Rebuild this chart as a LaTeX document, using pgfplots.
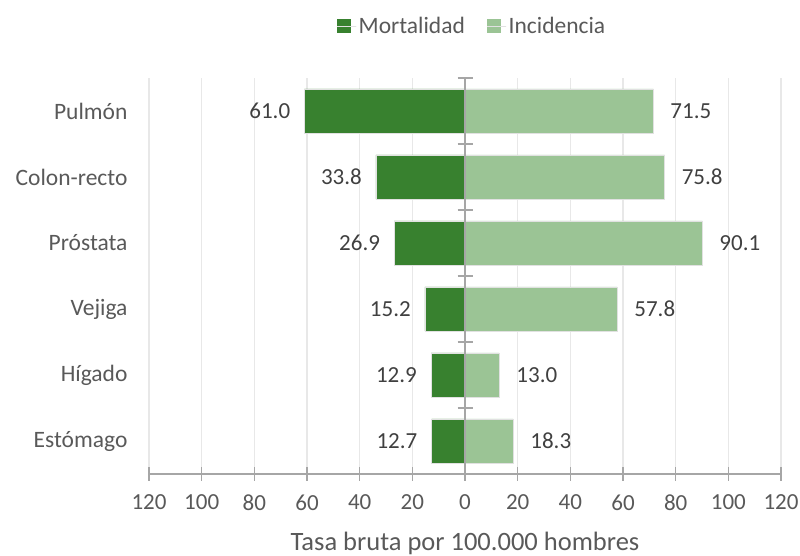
\documentclass[border=0pt]{standalone}
\usepackage{pgfplots}
\usepackage{pgfplotstable}
\pgfplotsset{compat=1.18}
\usepackage{fontspec}
\setmainfont{Carlito}
\definecolor{mort}{RGB}{56,129,47}
\definecolor{inc}{RGB}{155,196,149}
\definecolor{gridc}{RGB}{232,232,232}
\definecolor{axc}{RGB}{166,166,166}
\definecolor{txt}{RGB}{89,89,89}
\definecolor{lbl}{RGB}{64,64,64}
\definecolor{barline}{RGB}{225,225,225}
\pgfplotstableread{
y  m     i
5  61.0  71.5
4  33.8  75.8
3  26.9  90.1
2  15.2  57.8
1  12.9  13.0
0  12.7  18.3
}\datatab
\begin{document}
\begin{tikzpicture}
\useasboundingbox (-149pt,-82pt) rectangle (651pt,474pt);
\begin{axis}[
  scale only axis, width=632pt, height=396pt,
  xmin=-120, xmax=120, ymin=-0.5, ymax=5.5,
  clip=false,
  xtick={-120,-100,...,120},
  xticklabels={120,100,80,60,40,20,0,20,40,60,80,100,120},
  ytick={0,...,5},
  yticklabels={Estómago,Hígado,Vejiga,Próstata,Colon-recto,Pulmón},
  axis x line*=bottom,
  separate axis lines,
  x axis line style={draw=axc, line width=1.5pt, -},
  y axis line style={draw=none},
  xtick style={draw=axc, line width=1.5pt},
  ytick style={draw=none},
  major tick length=14pt,
  tick align=center,
  xmajorgrids,
  grid style={gridc, line width=1.5pt},
  /pgf/number format/assume math mode=true,
  xticklabel style={font=\fontsize{23}{28}\selectfont, text=txt, yshift=-10pt},
  yticklabel style={font=\fontsize{23.5}{28}\selectfont, text=txt, xshift=-11pt},
  xlabel={Tasa bruta por 100.000 hombres},
  xlabel style={font=\fontsize{26.5}{30}\selectfont, text=txt, at={(rel axis cs:0.5,0)}, anchor=center, yshift=-69pt},
  legend columns=2,
  legend style={at={(0.5112,1.131)}, anchor=center, draw=none, fill=none,
    font=\fontsize{23.5}{28}\selectfont, text=txt,
    /tikz/every even column/.append style={column sep=20pt}},
  legend image code/.code={\fill[#1, draw=none] (0pt,-7pt) rectangle (14pt,7pt); \path (0pt,0pt) -- (19pt,0pt);},
]
\addplot[xbar, bar width=0.667, bar shift=0pt, fill=mort, draw=barline, line width=0.75pt]
  table[x expr=-\thisrow{m}, y=y] {\datatab};
\addlegendentry{Mortalidad}
\addplot[xbar, bar width=0.667, bar shift=0pt, fill=inc, draw=barline, line width=0.75pt]
  table[x=i, y=y] {\datatab};
\addlegendentry{Incidencia}
% value labels
\addplot[draw=none, mark=none, forget plot, nodes near coords,
  point meta=explicit symbolic,
  every node near coord/.style={anchor=east, xshift=-14pt, inner sep=0pt,
    font=\fontsize{23}{28}\selectfont, text=lbl}]
  table[x expr=-\thisrow{m}, y=y, meta=m] {\datatab};
\addplot[draw=none, mark=none, forget plot, nodes near coords,
  point meta=explicit symbolic,
  every node near coord/.style={anchor=west, xshift=17pt, inner sep=0pt,
    font=\fontsize{23}{28}\selectfont, text=lbl}]
  table[x=i, y=y, meta=i] {\datatab};
\draw[axc, line width=1.5pt] (axis cs:0,-0.5) -- (axis cs:0,5.5);
\draw[axc, line width=1.5pt]
  ([xshift=-7.5pt]axis cs:0,0.5) -- ([xshift=7.5pt]axis cs:0,0.5)
  ([xshift=-7.5pt]axis cs:0,1.5) -- ([xshift=7.5pt]axis cs:0,1.5)
  ([xshift=-7.5pt]axis cs:0,2.5) -- ([xshift=7.5pt]axis cs:0,2.5)
  ([xshift=-7.5pt]axis cs:0,3.5) -- ([xshift=7.5pt]axis cs:0,3.5)
  ([xshift=-7.5pt]axis cs:0,4.5) -- ([xshift=7.5pt]axis cs:0,4.5)
  ([xshift=-7.5pt]axis cs:0,5.5) -- ([xshift=7.5pt]axis cs:0,5.5);
\end{axis}
\end{tikzpicture}
\end{document}
